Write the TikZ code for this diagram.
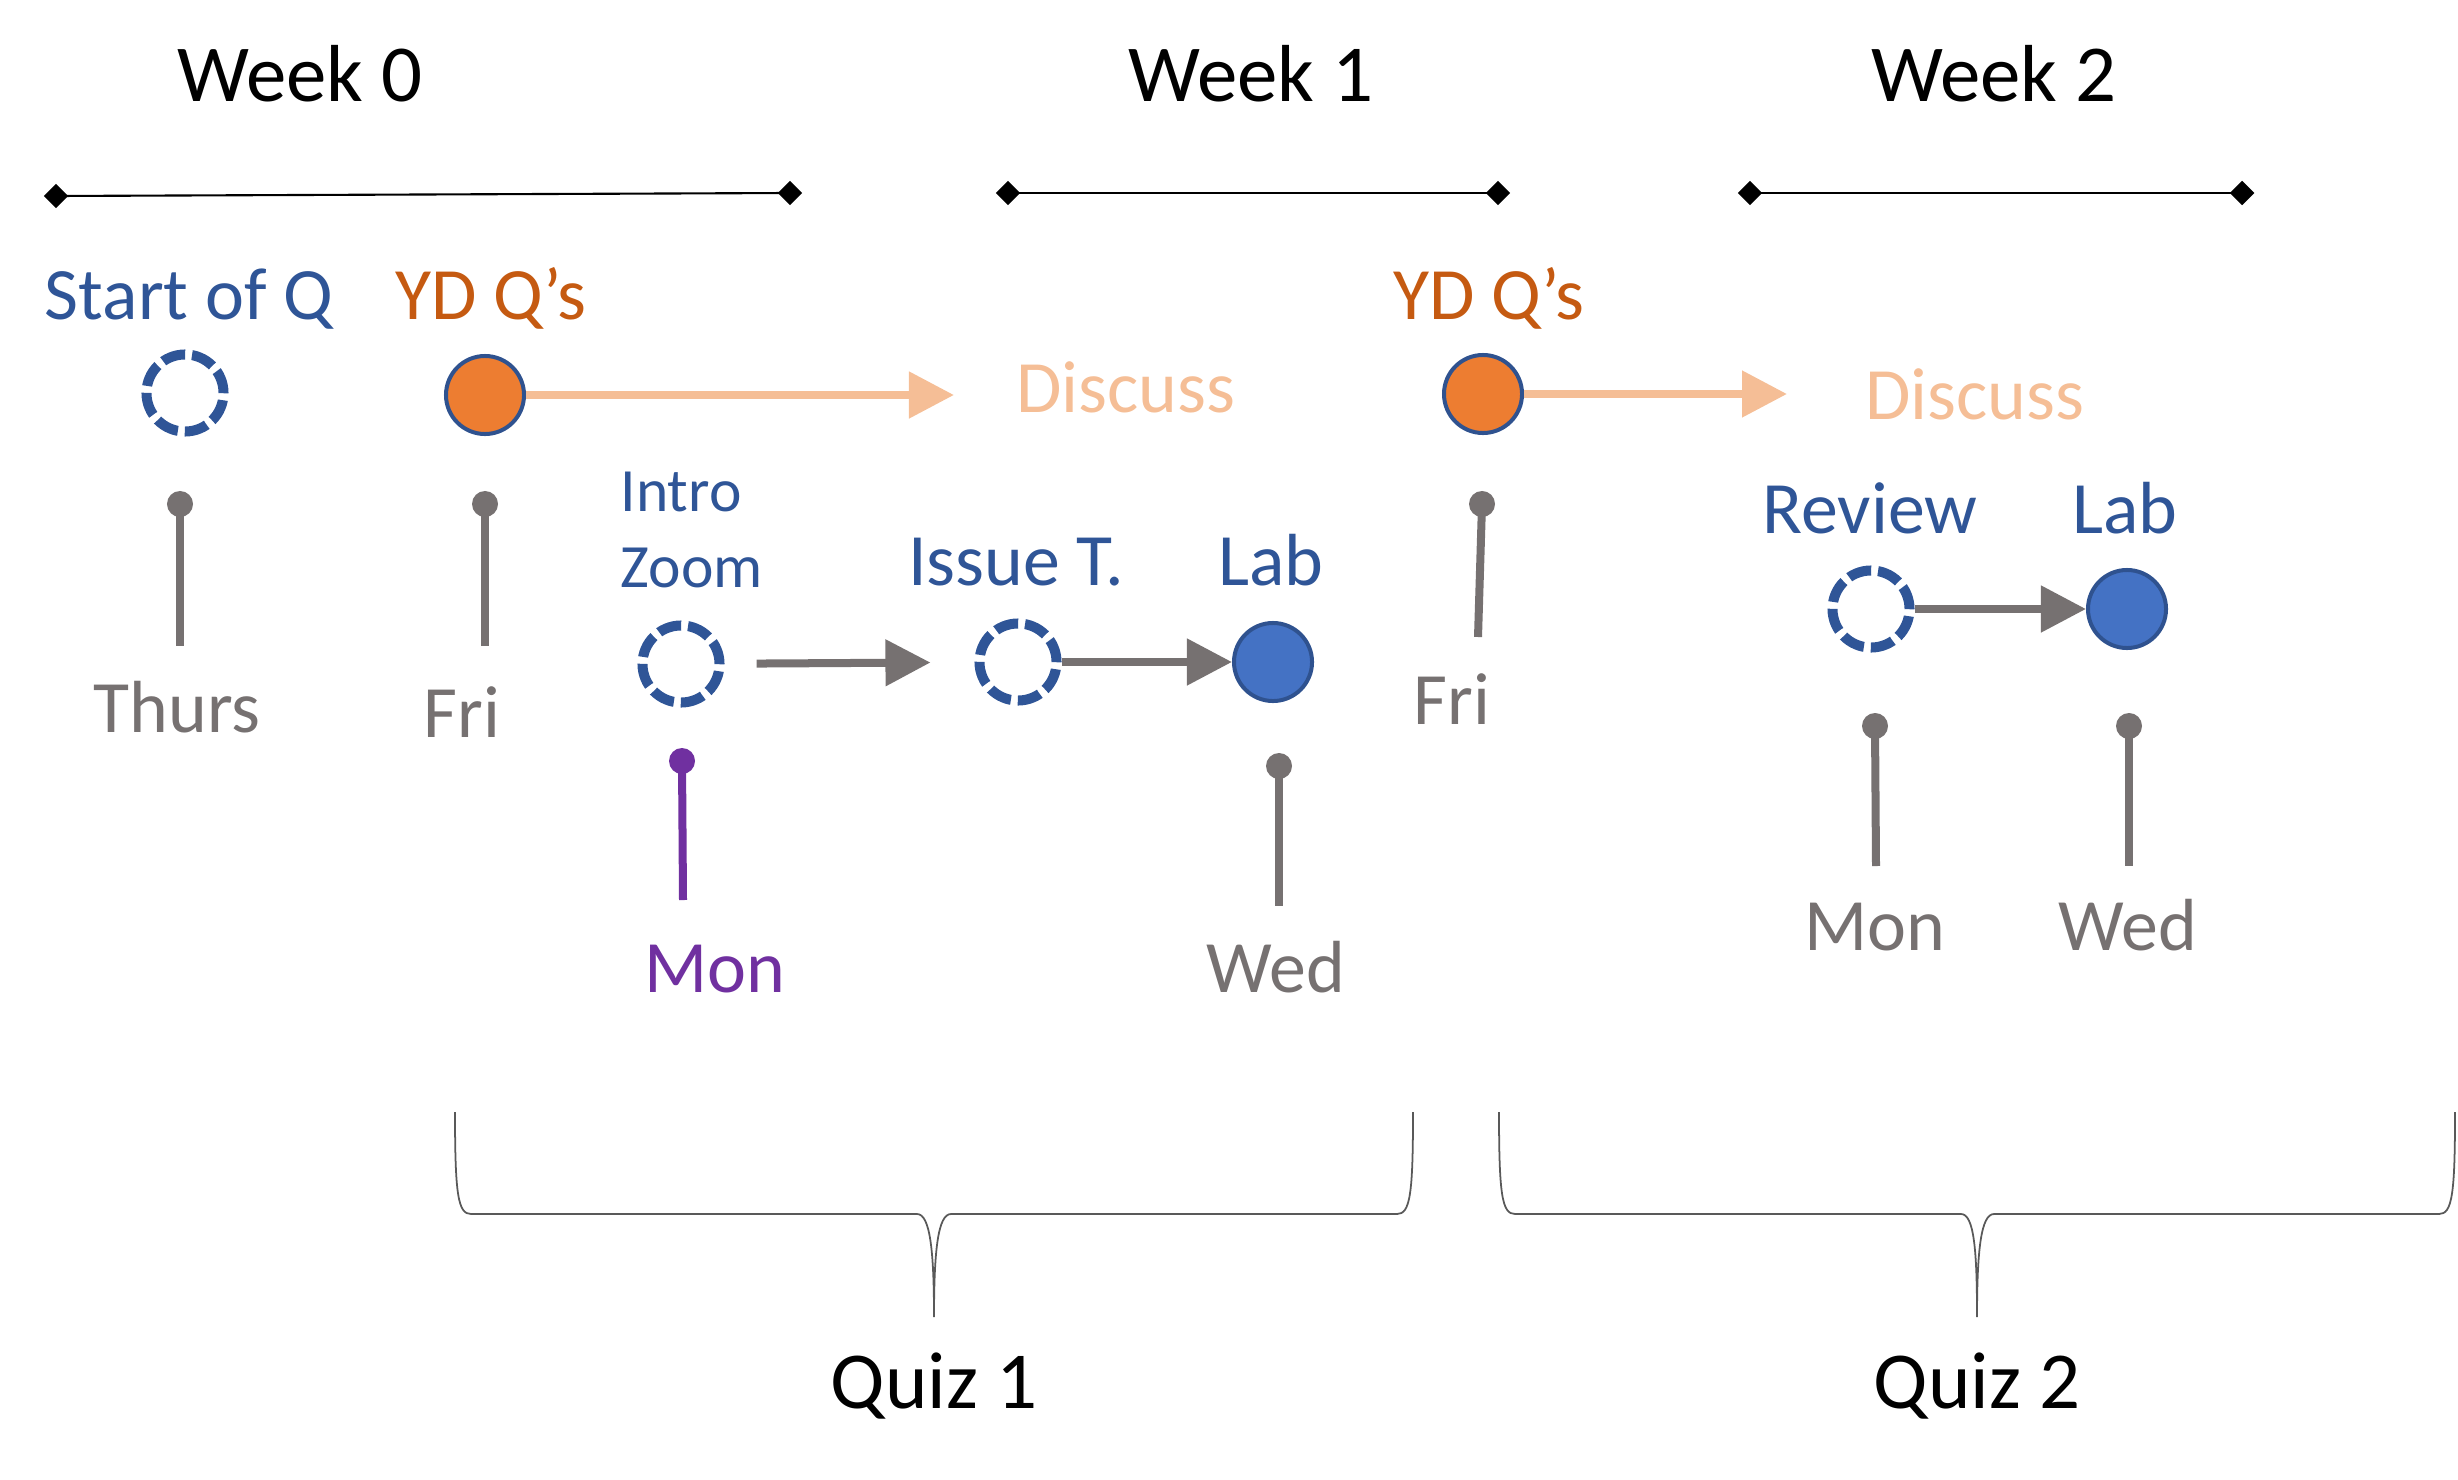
\documentclass[tikz,border=0pt]{standalone}
\usepackage{fontspec}
\setmainfont{Carlito}
\usetikzlibrary{arrows.meta,shapes.geometric}

\definecolor{qblue}{HTML}{2F5597}
\definecolor{qedge}{HTML}{2F528F}
\definecolor{qorange}{HTML}{ED7D31}
\definecolor{qdark}{HTML}{C55A11}
\definecolor{qlight}{HTML}{F5BE96}
\definecolor{qgray}{HTML}{767171}
\definecolor{qpurple}{HTML}{7030A0}
\definecolor{qlab}{HTML}{4472C4}
\definecolor{qbrace}{HTML}{595959}

\tikzset{
    week/.style={font=\fontsize{23}{28}\selectfont, anchor=base, inner sep=0pt},
    lbl/.style={font=\fontsize{21}{25}\selectfont, anchor=base, inner sep=0pt},
    diam/.style={diamond, fill=black, inner sep=0pt, minimum size=0.25cm},
    opencirc/.style={circle, draw=qblue, line width=0.1cm, dash pattern=on 0.232cm off 0.07cm, inner sep=0pt, minimum size=0.77cm},
    ydcirc/.style={circle, draw=qedge, fill=qorange, line width=0.04cm, inner sep=0pt, minimum size=0.78cm},
    labcirc/.style={circle, draw=qedge, fill=qlab, line width=0.04cm, inner sep=0pt, minimum size=0.78cm},
    pindot/.style={circle, fill=#1, inner sep=0pt, minimum size=0.26cm},
    pinline/.style={#1, line width=0.08cm},
    garrow/.style={qgray, line width=0.08cm, -{Triangle[length=0.45cm,width=0.45cm]}},
    oarrow/.style={qlight, line width=0.08cm, -{Triangle[length=0.45cm,width=0.45cm]}},
    brace/.style={qbrace, line width=0.5pt}
}

\begin{document}
\begin{tikzpicture}[x=0.01cm, y=-0.01cm]
    \useasboundingbox (0,0) rectangle (2458,1479);

    % weeks
    \node[week] (w0) at (300,102) {Week 0};
    \node[week] (w1) at (1251,102) {Week 1};
    \node[week] (w2) at (1994,102) {Week 2};
    \node[diam] (w0l) at (56,196) {};
    \node[diam] (w0r) at (790,193) {};
    \node[diam] (w1l) at (1008,193) {};
    \node[diam] (w1r) at (1498,193) {};
    \node[diam] (w2l) at (1750,193) {};
    \node[diam] (w2r) at (2242,193) {};
    \draw[line width=0.6pt] (w0l.center) -- (w0r.center);
    \draw[line width=0.6pt] (w1l.center) -- (w1r.center);
    \draw[line width=0.6pt] (w2l.center) -- (w2r.center);

    % events
    \node[lbl, text=qblue] (startl) at (189,319) {Start of Q};
    \node[opencirc] (startc) at (185,393) {};
    \node[lbl, text=qdark] (yd1l) at (491,319) {YD Q’s};
    \node[ydcirc] (yd1c) at (485,395) {};
    \coordinate (disc1tip) at (954,395);
    \node[lbl, text=qlight] (disc1) at (1126,412) {Discuss};
    \node[anchor=base west, align=left, inner sep=0pt, font=\fontsize{17.5}{21.6}\selectfont, text=qblue] (introl) at (620,587) {Intro\\Zoom};
    \node[opencirc] (introc) at (681,664) {};
    \node[lbl, text=qblue] (issuel) at (1016,585) {Issue T.};
    \node[opencirc] (issuec) at (1018,662) {};
    \node[lbl, text=qblue] (lab1l) at (1271,585) {Lab};
    \node[labcirc] (lab1c) at (1273,662) {};
    \node[lbl, text=qdark] (yd2l) at (1489,319) {YD Q’s};
    \node[ydcirc] (yd2c) at (1483,394) {};
    \coordinate (disc2tip) at (1787,394);
    \node[lbl, text=qlight] (disc2) at (1975,419) {Discuss};
    \node[lbl, text=qblue] (reviewl) at (1870,533) {Review};
    \node[opencirc] (reviewc) at (1871,609) {};
    \node[lbl, text=qblue] (lab2l) at (2125,533) {Lab};
    \node[labcirc] (lab2c) at (2127,609) {};

    \draw[oarrow] (yd1c) -- (disc1tip);
    \draw[oarrow] (yd2c) -- (disc2tip);
    \draw[garrow, shorten <=0.32cm, shorten >=0.44cm] (introc) -- (issuec);
    \draw[garrow] (issuec) -- (lab1c);
    \draw[garrow] (reviewc) -- (lab2c);

    % days
    \node[pindot=qgray] (thursp) at (180,504) {};
    \coordinate (thurse) at (180,646);
    \node[lbl, text=qgray] (thurs) at (177,732) {Thurs};
    \node[pindot=qgray] (fri1p) at (485,504) {};
    \coordinate (fri1e) at (485,646);
    \node[lbl, text=qgray] (fri1) at (462,737) {Fri};
    \node[pindot=qpurple] (mon1p) at (682,761) {};
    \coordinate (mon1e) at (683,900);
    \node[lbl, text=qpurple] (mon1) at (715,992) {Mon};
    \node[pindot=qgray] (wed1p) at (1279,766) {};
    \coordinate (wed1e) at (1279,906);
    \node[lbl, text=qgray] (wed1) at (1276,992) {Wed};
    \node[pindot=qgray] (fri2p) at (1482,504) {};
    \coordinate (fri2e) at (1478,637);
    \node[lbl, text=qgray] (fri2) at (1452,724) {Fri};
    \node[pindot=qgray] (mon2p) at (1875,726) {};
    \coordinate (mon2e) at (1876,866);
    \node[lbl, text=qgray] (mon2) at (1875,950) {Mon};
    \node[pindot=qgray] (wed2p) at (2129,726) {};
    \coordinate (wed2e) at (2129,866);
    \node[lbl, text=qgray] (wed2) at (2128,950) {Wed};

    \draw[pinline=qgray] (thursp.center) -- (thurse);
    \draw[pinline=qgray] (fri1p.center) -- (fri1e);
    \draw[pinline=qpurple] (mon1p.center) -- (mon1e);
    \draw[pinline=qgray] (wed1p.center) -- (wed1e);
    \draw[pinline=qgray] (fri2p.center) -- (fri2e);
    \draw[pinline=qgray] (mon2p.center) -- (mon2e);
    \draw[pinline=qgray] (wed2p.center) -- (wed2e);

    % quizzes
    \draw[brace] (455,1112) .. controls (455,1195) and (458,1214) .. (471,1214) -- (917,1214)
        .. controls (930,1214) and (934,1250) .. (934,1317) .. controls (934,1250) and (938,1214) .. (951,1214)
        -- (1397,1214) .. controls (1410,1214) and (1413,1195) .. (1413,1112);
    \draw[brace] (1499,1112) .. controls (1499,1195) and (1502,1214) .. (1515,1214) -- (1961,1214)
        .. controls (1974,1214) and (1977,1250) .. (1977,1317) .. controls (1977,1250) and (1981,1214) .. (1994,1214)
        -- (2439,1214) .. controls (2452,1214) and (2455,1195) .. (2455,1112);
    \node[week] (quiz1) at (934,1408) {Quiz 1};
    \node[week] (quiz2) at (1977,1408) {Quiz 2};
\end{tikzpicture}
\end{document}
